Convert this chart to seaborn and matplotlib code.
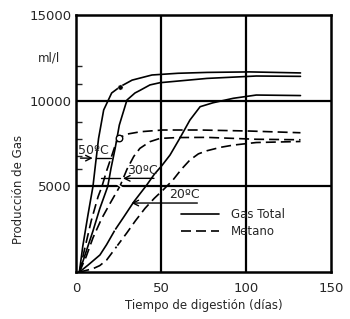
import matplotlib
matplotlib.use("Agg")
import matplotlib.pyplot as plt
import seaborn as sns
import pandas as pd

# Gas total (solid) and metano (dashed) curves
gas_50_x = [2, 4, 7, 10, 11.5, 13.3, 16.3, 21, 26, 33, 44.7, 60, 77, 102, 132]
gas_50_y = [0, 1500, 3300, 5000, 6300, 7800, 9460, 10450, 10820, 11200, 11500, 11600, 11650, 11680, 11620]

gas_30_x = [2, 6, 10, 14, 18.7, 20.6, 23, 25.5, 27, 30, 34.7, 37.6, 43.5, 49.4, 77, 106, 132]
gas_30_y = [0, 1200, 2400, 3700, 5000, 6050, 7200, 8580, 9070, 10040, 10450, 10600, 10920, 11050, 11300, 11440, 11420]

gas_20_x = [2, 7, 14.1, 18, 22.9, 28, 34, 41.6, 46, 50.4, 55.3, 61, 67, 73, 80.6, 92.5, 106, 132]
gas_20_y = [0, 400, 1000, 1600, 2450, 3200, 4100, 5080, 5700, 6200, 6830, 7800, 8870, 9650, 9880, 10140, 10330, 10300]

met_50_x = [2, 5, 9, 13, 15.3, 18, 21.6, 23.5, 25.5, 30, 38, 51, 73, 102, 132]
met_50_y = [0, 1300, 3000, 4400, 5000, 5900, 6950, 7530, 7840, 8050, 8190, 8290, 8290, 8230, 8130]

met_30_x = [2, 6, 10, 15, 20, 26, 30, 34, 37.6, 43.5, 49.4, 60, 77, 106, 132]
met_30_y = [0, 900, 2000, 3100, 4000, 5040, 6000, 6750, 7220, 7610, 7800, 7850, 7860, 7750, 7720]

met_20_x = [2, 10, 14, 18, 24, 30, 35, 40.6, 46, 51.2, 57, 62, 67, 72, 77, 85, 92.5, 106, 132]
met_20_y = [0, 200, 380, 700, 1500, 2300, 3000, 3720, 4300, 4790, 5370, 6000, 6540, 6900, 7080, 7280, 7410, 7560, 7620]

# small marks drawn on some curves
dot_x, dot_y = [26], [10820]
ring_x, ring_y = [25.5], [7840]
cross_x = [26, 22.9, 24]
cross_y = [5040, 2450, 1500]

x_ticks = [0, 50, 100, 150]
y_ticks = [5000, 10000, 15000]
y_minor = [6000, 6800, 7750, 8750, 11000, 12000]

sns.set_style("white")
plt.rcParams['font.family'] = ['DejaVu Sans']

fig = plt.figure(figsize=(3.5, 3.19), dpi=100)
ax = fig.add_axes([0.217, 0.147, 0.729, 0.806])

dash = (6, 3)
curves = [
    (gas_50_x, gas_50_y, "-"), (gas_30_x, gas_30_y, "-"), (gas_20_x, gas_20_y, "-"),
    (met_50_x, met_50_y, "--"), (met_30_x, met_30_y, "--"), (met_20_x, met_20_y, "--"),
]
for cx, cy, ls in curves:
    df = pd.DataFrame({"x": cx, "y": cy})
    sns.lineplot(data=df, x="x", y="y", color="black", lw=1.2, sort=False,
                 estimator=None, ax=ax, legend=False)
    if ls == "--":
        ax.lines[-1].set_dashes(dash)

sns.scatterplot(x=dot_x, y=dot_y, color="black", s=14, ax=ax, zorder=5)
sns.scatterplot(x=ring_x, y=ring_y, facecolor="white", edgecolor="black", s=22, lw=1, ax=ax, zorder=5)
sns.scatterplot(x=cross_x, y=cross_y, marker=(2, 0, 55), color="black", s=45, lw=1, ax=ax, zorder=5)

# grid lines
for gx in [50, 100]:
    ax.axvline(gx, color="black", lw=1.6, zorder=1)
for gy in [5000, 10000]:
    ax.axhline(gy, color="black", lw=1.6, zorder=1)

ax.set_xlim(0, 150)
ax.set_ylim(0, 15000)
ax.set_xticks(x_ticks)
ax.set_yticks(y_ticks)
ax.set_yticks(y_minor, minor=True)
ax.tick_params(axis="x", length=0, pad=7, labelsize=9.5)
ax.tick_params(axis="y", which="major", length=0, pad=3, labelsize=9.5)
ax.tick_params(axis="y", which="minor", direction="in", length=4, width=1, left=True)
for s in ax.spines.values():
    s.set_color("black")
    s.set_linewidth(1.8)

ax.set_xlabel("Tiempo de digestión (días)", fontsize=8.5, labelpad=3)
ax.set_ylabel("Producción de Gas", fontsize=8.5)
ax.yaxis.set_label_coords(-0.2, 0.32)
ax.text(-0.104, 0.833, "ml/l", transform=ax.transAxes, ha="center", va="center", fontsize=8.5)

# temperature labels with arrows
ax.text(1, 7100, "50ºC", fontsize=9, va="center", ha="left")
ax.annotate("", xy=(11.5, 6650), xytext=(1, 6650),
            arrowprops=dict(arrowstyle="->", lw=1, color="black"))
ax.plot([11.5, 20.6], [6650, 6650], color="black", lw=1)

ax.text(30, 5950, "30ºC", fontsize=9, va="center", ha="left")
ax.annotate("", xy=(26, 5470), xytext=(47.5, 5470),
            arrowprops=dict(arrowstyle="->", lw=1, color="black"))
ax.plot([15, 26], [5470, 5470], color="black", lw=1)

ax.text(55, 4500, "20ºC", fontsize=9, va="center", ha="left")
ax.annotate("", xy=(31, 4030), xytext=(73, 4030),
            arrowprops=dict(arrowstyle="->", lw=1, color="black"))

# legend
h1, = ax.plot([], [], color="black", lw=1.2)
h2, = ax.plot([], [], color="black", lw=1.2, dashes=dash)
ax.legend([h1, h2], ["Gas Total", "Metano"], frameon=False, fontsize=8.5,
          loc="center left", bbox_to_anchor=(0.37, 0.19), handlelength=3.2,
          handletextpad=1.0, labelspacing=0.35)

fig.savefig("out.png", dpi=100)
